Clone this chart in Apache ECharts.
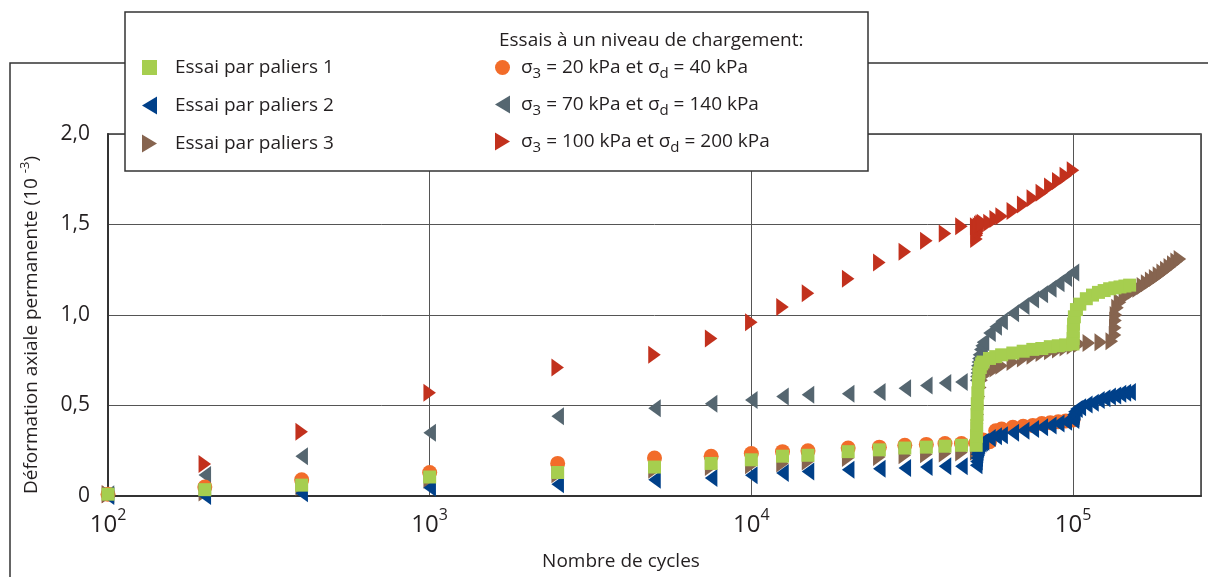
<!DOCTYPE html>
<html><head><meta charset="utf-8">
<script src="https://cdn.jsdelivr.net/npm/echarts@6/dist/echarts.min.js"></script>
<style>html,body{margin:0;padding:0;background:#fff}#c{width:1208px;height:577px}</style>
</head><body><div id="c"></div>
<script>
// ---------- DATA ----------
const cyclesStage1 = [100, 200, 400, 1000, 2500, 5000, 7500, 10000, 12500, 15000, 20000, 25000, 30000, 35000, 40000, 45000, 50000];
const cyclesStage2 = [50100, 50200, 50300, 50400, 50600, 50800, 51000, 51500, 52000, 52500, 55000, 57500, 60000, 65000, 70000, 75000, 80000, 85000, 90000, 95000, 100000];
const cyclesStage3 = [100100, 100200, 100400, 101000, 102500, 105000, 110000, 115000, 120000, 125000, 130000, 135000, 140000, 145000, 150000];
const cyclesP3Extra = [105000, 112000, 122000, 132000];
const cyclesP3Stage3 = [135100, 135300, 135600, 136000, 137500, 140000, 145000, 150000, 155000, 160000, 165000, 170000, 175000, 180000, 185000, 190000, 195000, 200000, 205000, 210000, 215000];

// Essai par paliers 1 (green squares)
const p1Stage1 = [0.01, 0.035, 0.06, 0.105, 0.13, 0.16, 0.18, 0.20, 0.22, 0.225, 0.245, 0.255, 0.265, 0.27, 0.275, 0.28, 0.28];
const p1Stage2 = [0.33, 0.39, 0.45, 0.51, 0.57, 0.63, 0.68, 0.71, 0.73, 0.74, 0.76, 0.77, 0.78, 0.79, 0.80, 0.81, 0.815, 0.825, 0.83, 0.835, 0.84];
const p1Stage3 = [0.87, 0.91, 0.95, 0.99, 1.03, 1.06, 1.09, 1.11, 1.125, 1.135, 1.145, 1.15, 1.155, 1.16, 1.165];
// Essai par paliers 2 (blue left triangles)
const p2Stage1 = [0.0, 0.0, 0.015, 0.045, 0.065, 0.09, 0.10, 0.115, 0.127, 0.135, 0.145, 0.15, 0.155, 0.16, 0.165, 0.165, 0.17];
const p2Stage2 = [0.19, 0.21, 0.23, 0.245, 0.26, 0.27, 0.28, 0.29, 0.295, 0.30, 0.32, 0.33, 0.335, 0.35, 0.36, 0.37, 0.38, 0.39, 0.40, 0.41, 0.42];
const p2Stage3 = [0.43, 0.44, 0.45, 0.465, 0.48, 0.49, 0.505, 0.515, 0.53, 0.54, 0.55, 0.555, 0.565, 0.57, 0.575];
// Essai par paliers 3 (brown right triangles)
const p3Stage1 = [0.01, 0.02, 0.05, 0.09, 0.12, 0.145, 0.16, 0.17, 0.18, 0.19, 0.21, 0.215, 0.225, 0.23, 0.235, 0.24, 0.245];
const p3Stage2 = [0.28, 0.32, 0.36, 0.40, 0.45, 0.50, 0.55, 0.60, 0.64, 0.66, 0.69, 0.705, 0.72, 0.74, 0.76, 0.775, 0.79, 0.80, 0.81, 0.82, 0.83];
const p3Extra = [0.84, 0.845, 0.85, 0.855];
const p3Stage3 = [0.89, 0.93, 0.97, 1.00, 1.04, 1.07, 1.10, 1.12, 1.135, 1.145, 1.16, 1.175, 1.19, 1.205, 1.22, 1.235, 1.25, 1.265, 1.28, 1.295, 1.31];
// sigma3 = 20 kPa (orange circles)
const s20Stage1 = [0.01, 0.05, 0.09, 0.13, 0.18, 0.21, 0.22, 0.235, 0.245, 0.25, 0.265, 0.27, 0.28, 0.285, 0.29, 0.29, 0.295];
const s20Stage2 = [0.29, 0.29, 0.29, 0.295, 0.295, 0.30, 0.30, 0.305, 0.31, 0.31, 0.30, 0.36, 0.37, 0.38, 0.385, 0.39, 0.40, 0.405, 0.41, 0.415, 0.42];
// sigma3 = 70 kPa (slate left triangles)
const s70Stage1 = [0.01, 0.116, 0.22, 0.35, 0.44, 0.485, 0.51, 0.53, 0.55, 0.56, 0.565, 0.575, 0.595, 0.61, 0.625, 0.63, 0.64];
const s70Stage2 = [0.66, 0.68, 0.70, 0.72, 0.74, 0.76, 0.78, 0.81, 0.83, 0.85, 0.90, 0.935, 0.965, 1.01, 1.05, 1.085, 1.115, 1.145, 1.175, 1.205, 1.235];
// sigma3 = 100 kPa (red right triangles)
const s100Stage1 = [0.01, 0.177, 0.355, 0.57, 0.71, 0.78, 0.87, 0.96, 1.044, 1.12, 1.20, 1.29, 1.35, 1.41, 1.45, 1.49, 1.49];
const s100Stage2 = [1.42, 1.44, 1.45, 1.46, 1.47, 1.48, 1.49, 1.50, 1.505, 1.51, 1.51, 1.53, 1.545, 1.575, 1.61, 1.645, 1.675, 1.71, 1.74, 1.77, 1.80];

const yTicks = [0, 0.5, 1.0, 1.5, 2.0];
const NAME_P1 = 'Essai par paliers 1';
const NAME_P2 = 'Essai par paliers 2';
const NAME_P3 = 'Essai par paliers 3';
const NAME_S20 = 'σ3 = 20 kPa et σd = 40 kPa';
const NAME_S70 = 'σ3 = 70 kPa et σd = 140 kPa';
const NAME_S100 = 'σ3 = 100 kPa et σd = 200 kPa';
const LEGEND_HEADER = 'Essais à un niveau de chargement:';

// ---------- CHART ----------
const FONT = '"Open Sans", sans-serif';
const TXT = '#231f20';
const LINE = '#333333';
const triRight = 'path://M0,0L15,9L0,18Z';
const triLeft = 'path://M15,0L15,18L0,9Z';
const square = 'path://M0,0H13V13H0Z';

function zip(xs, ys) { return xs.map((x, i) => [x, ys[i]]); }

function mk(name, symbol, size, color, data) {
  return { name, type: 'scatter', symbol, symbolSize: size, symbolKeepAspect: true, clip: false,
    itemStyle: { color, opacity: 1 }, emphasis: { disabled: true }, data, animation: false };
}

const series = [
  mk(NAME_S100, triRight, [15, 18], '#c2311d', zip(cyclesStage1, s100Stage1).concat(zip(cyclesStage2, s100Stage2))),
  mk(NAME_S70, triLeft, [15, 18], '#556670', zip(cyclesStage1, s70Stage1).concat(zip(cyclesStage2, s70Stage2))),
  mk(NAME_S20, 'circle', 15, '#f26c2a', zip(cyclesStage1, s20Stage1).concat(zip(cyclesStage2, s20Stage2))),
  mk(NAME_P3, triRight, [15, 18], '#86644f', zip(cyclesStage1, p3Stage1).concat(zip(cyclesStage2, p3Stage2), zip(cyclesP3Extra, p3Extra), zip(cyclesP3Stage3, p3Stage3))),
  mk(NAME_P2, triLeft, [15, 18], '#004089', zip(cyclesStage1, p2Stage1).concat(zip(cyclesStage2, p2Stage2), zip(cyclesStage3, p2Stage3))),
  mk(NAME_P1, square, 13, '#a6ce4f', zip(cyclesStage1, p1Stage1).concat(zip(cyclesStage2, p1Stage2), zip(cyclesStage3, p1Stage3)))
];

const chart = echarts.init(document.getElementById('c'), null, { renderer: 'canvas' });
const legendText = { fontFamily: FONT, fontSize: 19, color: TXT, lineHeight: 18 };
chart.setOption({
  animation: false,
  textStyle: { fontFamily: FONT, color: TXT },
  grid: { left: 108, right: 7, top: 134, bottom: 81, show: true, borderColor: LINE, borderWidth: 1.5, outerBoundsMode: 'none' },
  xAxis: {
    type: 'log', logBase: 10, min: 100, max: 250000,
    name: 'Nombre de cycles', nameLocation: 'middle', nameGap: 56,
    nameTextStyle: { fontFamily: FONT, fontSize: 19, color: TXT, padding: [0, 67, 0, 0] },
    axisLine: { lineStyle: { color: LINE, width: 2 } },
    axisTick: { show: false },
    splitLine: { show: true, lineStyle: { color: '#555', width: 1 } },
    axisLabel: {
      margin: 11, color: TXT, fontFamily: FONT, fontSize: 24,
      formatter: v => { const l = Math.log10(v); const e = Math.round(l); return Math.abs(l - e) < 1e-6 ? '10{sup|' + e + '}' : ''; },
      rich: { sup: { fontSize: 16, fontFamily: FONT, color: TXT, padding: [0, 0, 20, 0] } }
    }
  },
  yAxis: {
    type: 'value', min: yTicks[0], max: yTicks[yTicks.length - 1], interval: 0.5,
    name: 'Déformation axiale permanente (10 {sup|-3})', nameLocation: 'middle', nameRotate: 90, nameGap: 64,
    nameTextStyle: { fontFamily: FONT, fontSize: 19, color: TXT, padding: [0, 20, 0, 0],
      rich: { sup: { fontSize: 13, fontFamily: FONT, color: TXT, padding: [0, 0, 12, 0] } } },
    axisLine: { show: true, lineStyle: { color: LINE, width: 2 } },
    axisTick: { show: false },
    splitLine: { show: true, lineStyle: { color: '#555', width: 1 } },
    axisLabel: { margin: 18, color: TXT, fontFamily: FONT, fontSize: 21,
      formatter: v => v === 0 ? '0' : v.toFixed(1).replace('.', ',') }
  },
  legend: [
    { data: [NAME_P1, NAME_P2, NAME_P3], orient: 'vertical', left: 142, top: 58, padding: 0, itemWidth: 15, itemHeight: 18, itemGap: 19,
      symbolKeepAspect: true, selectedMode: false, z: 10,
      textStyle: Object.assign({ padding: [0, 0, 0, 13] }, legendText) },
    { data: [NAME_S20, NAME_S70, NAME_S100], orient: 'vertical', left: 495, top: 54, padding: 0, itemWidth: 15, itemHeight: 18, itemGap: 10,
      symbolKeepAspect: true, selectedMode: false, z: 10,
      formatter: n => n.replace(/σ([3d])/g, 'σ{sub|$1}'),
      textStyle: Object.assign({ padding: [0, 0, 0, 6], rich: { sub: { fontSize: 15, fontFamily: FONT, color: TXT, lineHeight: 18, padding: [12, 0, 0, 0] } } }, legendText) }
  ],
  graphic: [
    { type: 'polyline', z: 1, shape: { points: [[10, 590], [10, 63], [1215, 63]] }, style: { stroke: LINE, lineWidth: 1.5, fill: null } },
    { type: 'rect', z: 5, shape: { x: 125, y: 12, width: 743, height: 159 }, style: { fill: '#fff', stroke: LINE, lineWidth: 1.5 } },
    { type: 'text', z: 10, left: 499, top: 31, style: { text: LEGEND_HEADER, font: '19px "Open Sans", sans-serif', fill: TXT } }
  ],
  series
});
</script></body></html>
